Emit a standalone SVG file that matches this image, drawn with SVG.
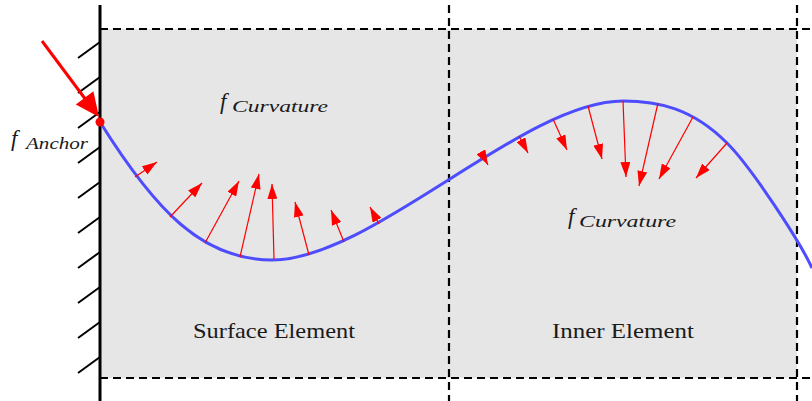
<svg xmlns="http://www.w3.org/2000/svg" width="812" height="401" viewBox="0 0 812 401">
<defs>
<style>
.dash{stroke:#000;stroke-width:2.2;stroke-dasharray:8 5;fill:none}
.hatch{stroke:#000;stroke-width:2;fill:none}
.force{stroke:#ff0000;stroke-width:1.2;fill:none;marker-end:url(#ah)}
.math{font-family:"Liberation Serif","DejaVu Serif",serif;font-style:italic;fill:#1a1a1a}
.lbl{font-family:"Liberation Serif","DejaVu Serif",serif;font-size:22px;fill:#1a1a1a}
</style>
<marker id="ah" markerUnits="userSpaceOnUse" markerWidth="15" markerHeight="10" refX="15" refY="5" orient="auto" viewBox="0 0 15 10">
<path d="M0,0 L15,5 L0,10 z" fill="#ff0000"/>
</marker>
</defs>

<g id="background">
<rect x="100" y="29" width="697" height="349" fill="#e6e6e6"/>
</g>

<g id="surface-element">
<text class="lbl" x="193" y="338" textLength="162" lengthAdjust="spacingAndGlyphs">Surface Element</text>
</g>
<g id="inner-element">
<text class="lbl" x="552" y="338" textLength="142" lengthAdjust="spacingAndGlyphs">Inner Element</text>
</g>

<g id="boundaries">
<line class="dash" x1="100" y1="29" x2="812" y2="29"/>
<line class="dash" x1="100" y1="378" x2="812" y2="378"/>
<line class="dash" x1="449" y1="5" x2="449" y2="401"/>
<line class="dash" x1="797" y1="5" x2="797" y2="401"/>
</g>

<g id="wall">
<line x1="100" y1="5" x2="100" y2="401" stroke="#000" stroke-width="3"/>
<line class="hatch" x1="78" y1="58" x2="100" y2="42"/>
<line class="hatch" x1="78" y1="93" x2="100" y2="77"/>
<line class="hatch" x1="78" y1="128" x2="100" y2="112"/>
<line class="hatch" x1="78" y1="163" x2="100" y2="147"/>
<line class="hatch" x1="78" y1="198" x2="100" y2="182"/>
<line class="hatch" x1="78" y1="233" x2="100" y2="217"/>
<line class="hatch" x1="78" y1="268" x2="100" y2="252"/>
<line class="hatch" x1="78" y1="303" x2="100" y2="287"/>
<line class="hatch" x1="78" y1="338" x2="100" y2="322"/>
<line class="hatch" x1="78" y1="373" x2="100" y2="357"/>
</g>

<g id="curve">
<path d="M100,122 C155,210 202,260 272,260 C372,260 523,101 623,101 C658,101 692,108 727,143 C752,168 800,242 812,268" fill="none" stroke="#4d4dff" stroke-width="3"/>
</g>

<g id="connectors">
<line class="force" x1="135" y1="177" x2="157" y2="162"/>
<line class="force" x1="170" y1="217" x2="202" y2="183"/>
<line class="force" x1="205" y1="243" x2="239" y2="181"/>
<line class="force" x1="240" y1="257" x2="259" y2="174"/>
<line class="force" x1="274" y1="259" x2="272" y2="184"/>
<line class="force" x1="309" y1="255" x2="295" y2="202"/>
<line class="force" x1="344" y1="242" x2="331" y2="210"/>
<line class="force" x1="379" y1="224" x2="370" y2="207"/>

<line class="force" x1="481" y1="152" x2="488" y2="165"/>
<line class="force" x1="519" y1="136" x2="528" y2="153"/>
<line class="force" x1="553" y1="119" x2="567" y2="150"/>
<line class="force" x1="588" y1="106" x2="602" y2="159"/>
<line class="force" x1="623" y1="101" x2="626" y2="177"/>
<line class="force" x1="658" y1="103" x2="639" y2="186"/>
<line class="force" x1="693" y1="117" x2="659" y2="179"/>
<line class="force" x1="727" y1="143" x2="696" y2="178"/>

<line x1="42" y1="41" x2="86" y2="100" stroke="#ff0000" stroke-width="3"/>
<polygon points="99,117 75.8,104.4 93.4,91.2" fill="#ff0000"/>
</g>

<g id="anchor">
<circle cx="100" cy="122" r="4.5" fill="#ff0000"/>
</g>

<g id="labels">
<text class="math" x="220" y="109" font-size="23">f</text>
<text class="math" x="232" y="112" font-size="16" textLength="96" lengthAdjust="spacingAndGlyphs">Curvature</text>
<text class="math" x="568" y="224" font-size="23">f</text>
<text class="math" x="579" y="227" font-size="16" textLength="97" lengthAdjust="spacingAndGlyphs">Curvature</text>
<text class="math" x="11" y="146" font-size="23">f</text>
<text class="math" x="26" y="149" font-size="16" textLength="62" lengthAdjust="spacingAndGlyphs">Anchor</text>
</g>
</svg>
